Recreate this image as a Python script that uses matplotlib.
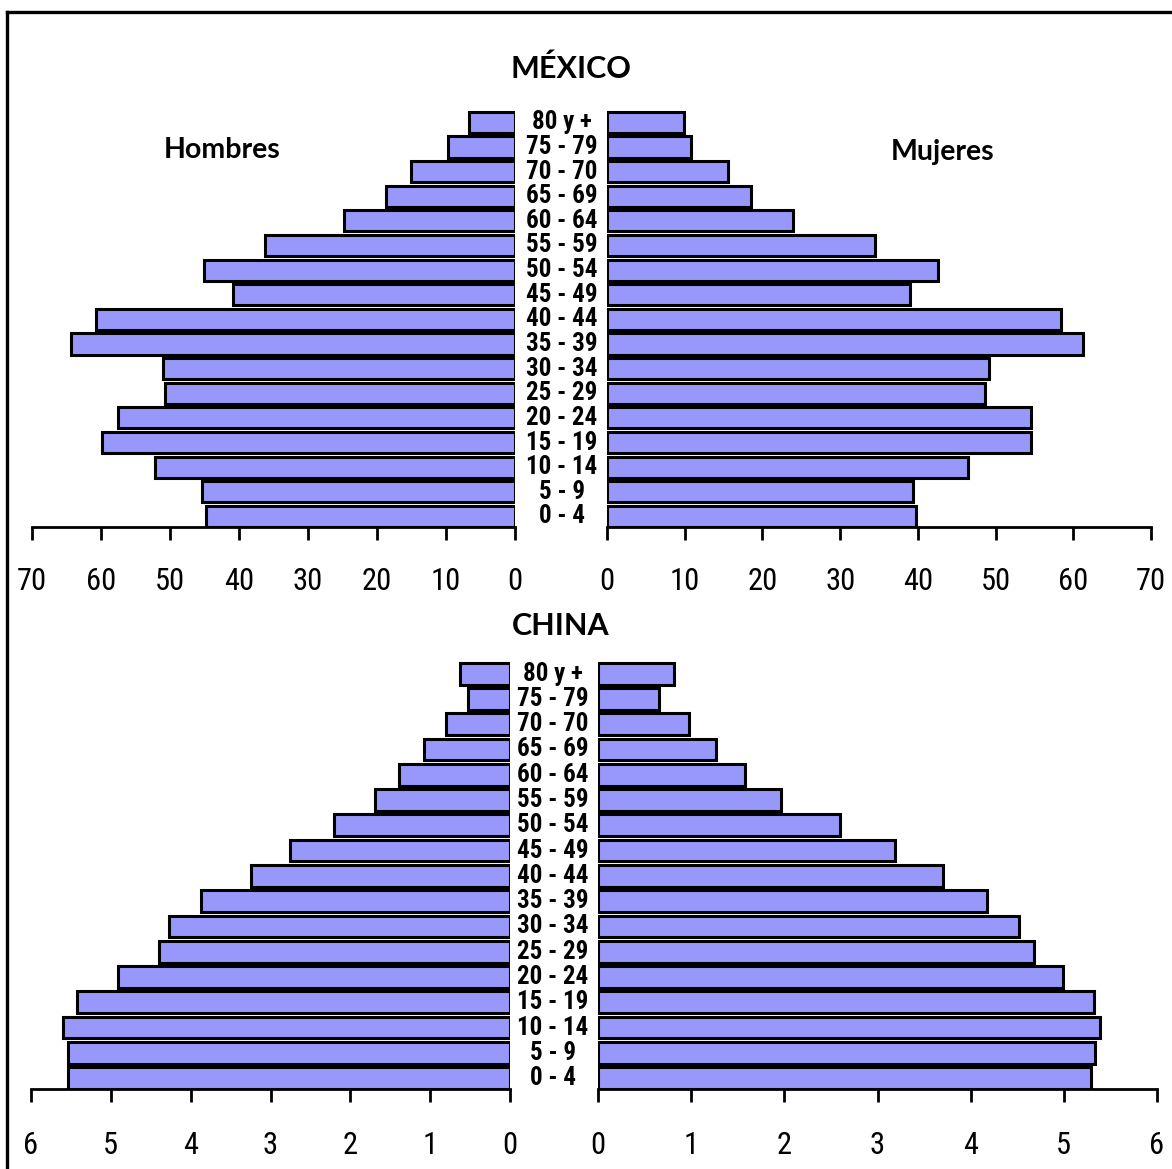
import matplotlib
matplotlib.use("Agg")
import matplotlib.pyplot as plt
from matplotlib.transforms import blended_transform_factory
from matplotlib.lines import Line2D
from matplotlib import font_manager
from matplotlib.font_manager import FontProperties

# ---------------- data ----------------
age_groups = ["0 - 4", "5 - 9", "10 - 14", "15 - 19", "20 - 24", "25 - 29", "30 - 34",
              "35 - 39", "40 - 44", "45 - 49", "50 - 54", "55 - 59", "60 - 64",
              "65 - 69", "70 - 70", "75 - 79", "80 y +"]

mexico_hombres = [44.8, 45.4, 52.2, 59.8, 57.5, 50.7, 51.0, 64.4, 60.7, 40.8,
                  45.1, 36.2, 24.8, 18.7, 15.1, 9.7, 6.7]
mexico_mujeres = [39.8, 39.4, 46.4, 54.6, 54.5, 48.6, 49.2, 61.2, 58.4, 39.0,
                  42.6, 34.5, 23.9, 18.5, 15.6, 10.8, 9.9]

china_hombres = [5.54, 5.54, 5.60, 5.43, 4.91, 4.40, 4.27, 3.87, 3.25, 2.76,
                 2.21, 1.69, 1.39, 1.08, 0.80, 0.53, 0.63]
china_mujeres = [5.29, 5.33, 5.39, 5.32, 4.99, 4.68, 4.52, 4.17, 3.70, 3.19,
                 2.60, 1.96, 1.58, 1.27, 0.98, 0.66, 0.82]

mexico_ticks = [0, 10, 20, 30, 40, 50, 60, 70]
china_ticks = [0, 1, 2, 3, 4, 5, 6]

titles = ["MÉXICO", "CHINA"]
sex_labels = ["Hombres", "Mujeres"]

# ---------------- fonts ----------------
def find_condensed(bold):
    cands = []
    for f in font_manager.fontManager.ttflist:
        nm = (f.name + " " + f.fname).lower()
        st = str(f.stretch).lower()
        is_narrow = ("narrow" in nm or "condensed" in nm or "cond" in st
                     or (isinstance(f.stretch, int) and f.stretch < 500))
        if not is_narrow:
            continue
        if "mono" in nm or "serif" in nm and "sans" not in nm:
            continue
        w = f.weight if isinstance(f.weight, int) else (700 if "bold" in str(f.weight).lower() else 400)
        if "italic" in f.style or "oblique" in f.style:
            continue
        if bold != (w >= 600):
            continue
        pref = 0
        if "liberation" in nm:
            pref = 3
        elif "roboto" in nm:
            pref = 2
        elif "dejavu" in nm:
            pref = 1
        cands.append((pref, f.fname))
    if cands:
        cands.sort(reverse=True)
        return FontProperties(fname=cands[0][1])
    return None

fp_tick = find_condensed(False)
fp_cat = find_condensed(True)

avail = {f.name for f in font_manager.fontManager.ttflist}
title_font = "Lato" if "Lato" in avail else "DejaVu Sans"

W, H = 1172, 1169
fig = plt.figure(figsize=(W / 100, H / 100), dpi=100)
fig.patch.set_facecolor("white")

def rect(left, right, top, bottom):
    return [left / W, 1 - bottom / H, (right - left) / W, (bottom - top) / H]

BAR_COLOR = "#9898FA"
BAR_H = 0.86
y = list(range(len(age_groups)))

def style_axis(ax, xmax, ticks, reverse, pad_pt):
    if reverse:
        ax.set_xlim(xmax, 0)
    else:
        ax.set_xlim(0, xmax)
    ax.set_ylim(-BAR_H / 2, len(age_groups) - 0.5)
    for s in ["top", "left", "right"]:
        ax.spines[s].set_visible(False)
    ax.spines["bottom"].set_linewidth(2.0)
    ax.set_yticks([])
    ax.set_xticks(ticks)
    ax.set_xticklabels([str(t) for t in ticks])
    ax.tick_params(axis="x", direction="out", length=9, width=2.0, pad=pad_pt,
                   labelsize=22, colors="black")
    for lab in ax.get_xticklabels():
        if fp_tick is not None:
            lab.set_fontproperties(fp_tick)
            lab.set_fontsize(22)
        else:
            lab.set_family(["Liberation Sans", "DejaVu Sans"])
    ax.patch.set_alpha(0)

def pyramid(vals_l, vals_r, box_l, box_r, xmax, ticks, label_x, pad_pt):
    axl = fig.add_axes(rect(*box_l))
    axr = fig.add_axes(rect(*box_r))
    axl.barh(y, vals_l, height=BAR_H, color=BAR_COLOR, edgecolor="black", linewidth=2.2)
    axr.barh(y, vals_r, height=BAR_H, color=BAR_COLOR, edgecolor="black", linewidth=2.2)
    style_axis(axl, xmax, ticks, True, pad_pt)
    style_axis(axr, xmax, ticks, False, pad_pt)
    tr = blended_transform_factory(fig.transFigure, axl.transData)
    for yi, lab in zip(y, age_groups):
        t = axl.text(label_x / W, yi, lab, transform=tr, ha="center", va="center",
                     clip_on=False)
        if fp_cat is not None:
            t.set_fontproperties(fp_cat)
            t.set_fontsize(18)
        else:
            t.set_family(["Liberation Sans", "DejaVu Sans"])
            t.set_fontsize(16)
            t.set_fontweight("bold")
    return axl, axr

pyramid(mexico_hombres, mexico_mujeres,
        (32, 515, 110, 527), (607, 1151, 110, 527),
        70, mexico_ticks, 562, 20)
pyramid(china_hombres, china_mujeres,
        (31, 510, 661, 1089), (598, 1157, 661, 1089),
        6, china_ticks, 553, 21)

# titles
fig.text(571 / W, 1 - 69 / H, titles[0], ha="center", va="center",
         fontsize=22, fontweight="bold", family=[title_font, "DejaVu Sans"])
fig.text(561 / W, 1 - 626 / H, titles[1], ha="center", va="center",
         fontsize=22, fontweight="bold", family=[title_font, "DejaVu Sans"])
fig.text(222 / W, 1 - 150 / H, sex_labels[0], ha="center", va="center",
         fontsize=20.5, fontweight="bold", family=[title_font, "DejaVu Sans"])
fig.text(943 / W, 1 - 152 / H, sex_labels[1], ha="center", va="center",
         fontsize=20.5, fontweight="bold", family=[title_font, "DejaVu Sans"])

# frame border (left and top visible)
fig.add_artist(Line2D([7 / W, 7 / W], [0, 1 - 12 / H], transform=fig.transFigure,
                      color="black", lw=2.4, solid_capstyle="projecting"))
fig.add_artist(Line2D([7 / W, 1], [1 - 12 / H, 1 - 12 / H], transform=fig.transFigure,
                      color="black", lw=2.4, solid_capstyle="projecting"))

fig.savefig("out.png", dpi=100, facecolor="white")
